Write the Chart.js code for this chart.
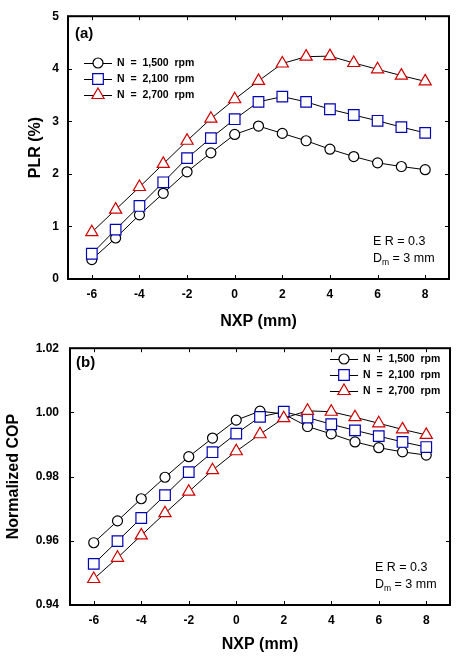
<!DOCTYPE html>
<html>
<head>
<meta charset="utf-8">
<script src="https://cdn.jsdelivr.net/npm/chart.js@4.4.1/dist/chart.umd.min.js"></script>
<style>
  html, body { margin: 0; padding: 0; background: #fff; }
  .panel { position: absolute; left: 0; width: 473px; height: 330px; }
</style>
</head>
<body>
<div class="panel" style="top:0"><canvas id="c1"></canvas></div>
<div class="panel" style="top:330px"><canvas id="c2"></canvas></div>
<script>
// ---- data ----
const nxp = [-6, -5, -4, -3, -2, -1, 0, 1, 2, 3, 4, 5, 6, 7, 8];
const seriesNames = ['N = 1,500 rpm', 'N = 2,100 rpm', 'N = 2,700 rpm'];
const plr1500 = [0.37, 0.78, 1.22, 1.63, 2.04, 2.40, 2.75, 2.91, 2.77, 2.63, 2.47, 2.33, 2.21, 2.14, 2.08];
const plr2100 = [0.48, 0.94, 1.39, 1.84, 2.30, 2.68, 3.04, 3.37, 3.47, 3.37, 3.23, 3.12, 3.01, 2.89, 2.78];
const plr2700 = [0.89, 1.32, 1.75, 2.19, 2.63, 3.05, 3.42, 3.77, 4.10, 4.23, 4.24, 4.11, 3.99, 3.87, 3.76];
const cop1500 = [0.9594, 0.9662, 0.9731, 0.9798, 0.9862, 0.9920, 0.9976, 1.0004, 0.9995, 0.9956, 0.9933, 0.9908, 0.9890, 0.9877, 0.9867];
const cop2100 = [0.9528, 0.9599, 0.9671, 0.9742, 0.9814, 0.9876, 0.9934, 0.9986, 1.0002, 0.9984, 0.9963, 0.9944, 0.9926, 0.9908, 0.9892];
const cop2700 = [0.9481, 0.9547, 0.9617, 0.9686, 0.9753, 0.9820, 0.9879, 0.9932, 0.9982, 1.0005, 1.0002, 0.9985, 0.9966, 0.9947, 0.9930];
const xTicks = [-6, -4, -2, 0, 2, 4, 6, 8];
const plrTicks = [0, 1, 2, 3, 4, 5];
const copTicks = [0.94, 0.96, 0.98, 1.00, 1.02];

// ---- styles ----
const FONT = "'Liberation Sans', Arial, sans-serif";
Chart.defaults.font.family = FONT;
Chart.defaults.color = '#000';
const styles = [
  { pointStyle: 'circle',   radius: 5,   color: '#000000', order: 3 },
  { pointStyle: 'rect',     radius: 7.5, color: '#0000b4', order: 2 },
  { pointStyle: 'triangle', radius: 7,   color: '#d00000', order: 1 }
];

function makeDatasets(arrs) {
  return arrs.map((arr, i) => ({
    label: seriesNames[i],
    data: arr.map((v, j) => ({ x: nxp[j], y: v })),
    borderColor: '#000',
    borderWidth: 1,
    pointStyle: styles[i].pointStyle,
    pointRadius: styles[i].radius,
    pointHoverRadius: styles[i].radius,
    pointBackgroundColor: '#fff',
    pointBorderColor: styles[i].color,
    pointBorderWidth: 1.2,
    order: styles[i].order,
    tension: 0,
    fill: false
  }));
}

function drawMarker(ctx, style, r, x, y, color) {
  ctx.save();
  ctx.fillStyle = '#fff';
  ctx.strokeStyle = color;
  ctx.lineWidth = 1.2;
  ctx.beginPath();
  if (style === 'circle') {
    ctx.arc(x, y, r, 0, Math.PI * 2);
  } else if (style === 'rect') {
    const s = Math.SQRT1_2 * r;
    ctx.rect(x - s, y - s, 2 * s, 2 * s);
  } else {
    let rad = 0;
    ctx.moveTo(x + Math.sin(rad) * r, y - Math.cos(rad) * r);
    rad += 2 * Math.PI / 3;
    ctx.lineTo(x + Math.sin(rad) * r, y - Math.cos(rad) * r);
    rad += 2 * Math.PI / 3;
    ctx.lineTo(x + Math.sin(rad) * r, y - Math.cos(rad) * r);
    ctx.closePath();
  }
  ctx.fill();
  ctx.stroke();
  ctx.restore();
}

function decorPlugin(cfg) {
  return {
    id: 'decor',
    afterDraw(chart) {
      const ctx = chart.ctx;
      const a = chart.chartArea;
      const xs = chart.scales.x, ys = chart.scales.y;
      ctx.save();
      // frame
      ctx.strokeStyle = '#000';
      ctx.lineWidth = 2;
      ctx.strokeRect(a.left, a.top, a.right - a.left, a.bottom - a.top);
      // inward ticks
      ctx.lineWidth = 1;
      ctx.beginPath();
      xs.ticks.forEach(t => {
        const px = Math.round(xs.getPixelForValue(t.value)) + 0.5;
        ctx.moveTo(px, a.bottom); ctx.lineTo(px, a.bottom - 4);
        ctx.moveTo(px, a.top); ctx.lineTo(px, a.top + 4);
      });
      ys.ticks.forEach(t => {
        const py = Math.round(ys.getPixelForValue(t.value)) + 0.5;
        ctx.moveTo(a.left, py); ctx.lineTo(a.left + 4, py);
        ctx.moveTo(a.right, py); ctx.lineTo(a.right - 4, py);
      });
      ctx.stroke();
      // panel label
      ctx.fillStyle = '#000';
      ctx.font = 'bold 15px ' + FONT;
      ctx.textBaseline = 'middle';
      ctx.textAlign = 'left';
      ctx.fillText(cfg.panel, cfg.panelX, cfg.panelY);
      // legend
      chart.data.datasets.forEach((ds, i) => {
        const y = cfg.legY + i * 16;
        ctx.strokeStyle = '#000';
        ctx.lineWidth = 1;
        ctx.beginPath();
        ctx.moveTo(cfg.legX, y + 0.5);
        ctx.lineTo(cfg.legX + 28, y + 0.5);
        ctx.stroke();
        drawMarker(ctx, ds.pointStyle, ds.pointRadius, cfg.legX + 14, y, ds.pointBorderColor);
        ctx.fillStyle = '#000';
        ctx.font = 'bold 10.5px ' + FONT;
        ctx.textBaseline = 'middle';
        ctx.fillText(ds.label.replace(/ /g, '  '), cfg.legX + 33, y + 0.5);
      });
      // annotation
      ctx.font = '12.5px ' + FONT;
      ctx.fillStyle = '#000';
      ctx.fillText('E R = 0.3', cfg.annX, cfg.annY);
      ctx.fillText('D', cfg.annX, cfg.annY + 17);
      const dw = ctx.measureText('D').width;
      ctx.font = '8.5px ' + FONT;
      ctx.fillText('m', cfg.annX + dw, cfg.annY + 21);
      const mw = ctx.measureText('m').width;
      ctx.font = '12.5px ' + FONT;
      ctx.fillText(' = 3 mm', cfg.annX + dw + mw, cfg.annY + 17);
      ctx.restore();
    }
  };
}

function makeChart(id, arrs, yTicks, yMin, yMax, yTitle, fmt, L, cfg) {
  return new Chart(document.getElementById(id), {
    type: 'line',
    data: { datasets: makeDatasets(arrs) },
    options: {
      responsive: true,
      maintainAspectRatio: false,
      animation: false,
      events: [],
      layout: { padding: { top: L.top, right: L.right, left: 0, bottom: 0 } },
      plugins: { legend: { display: false }, tooltip: { enabled: false } },
      scales: {
        x: {
          type: 'linear', min: -7, max: 9,
          grid: { display: false, drawTicks: false },
          border: { display: false },
          afterBuildTicks: s => { s.ticks = xTicks.map(v => ({ value: v })); },
          afterFit: s => { s.height = L.xH; },
          ticks: { font: { size: 12, weight: 'bold' }, padding: 8, maxRotation: 0, callback: v => String(v) },
          title: { display: true, text: 'NXP (mm)', font: { size: 16, weight: 'bold', lineHeight: 1 }, padding: { top: 0, bottom: L.xTitlePad } }
        },
        y: {
          type: 'linear', min: yMin, max: yMax,
          grid: { display: false, drawTicks: false },
          border: { display: false },
          afterBuildTicks: s => { s.ticks = yTicks.map(v => ({ value: v })); },
          afterFit: s => { s.width = L.yW; },
          ticks: { font: { size: 12, weight: 'bold' }, padding: L.yTickPad, callback: fmt },
          title: { display: true, text: yTitle, font: { size: 16, weight: 'bold', lineHeight: 1.2 }, padding: { top: L.yTitlePad, bottom: 0 } }
        }
      }
    },
    plugins: [decorPlugin(cfg)]
  });
}

makeChart('c1', [plr1500, plr2100, plr2700], plrTicks, 0, 5, 'PLR (%)', v => String(v),
  { top: 15, right: 24, xH: 51, yW: 68, xTitlePad: 0, yTickPad: 9, yTitlePad: 26 },
  { panel: '(a)', panelX: 75, panelY: 34, legX: 84, legY: 63, annX: 373, annY: 242 });

makeChart('c2', [cop1500, cop2100, cop2700], copTicks, 0.94, 1.02, 'Normalized COP', v => Number(v).toFixed(2),
  { top: 12, right: 23, xH: 55, yW: 70, xTitlePad: 7, yTickPad: 11, yTitlePad: 4 },
  { panel: '(b)', panelX: 76, panelY: 33, legX: 330, legY: 29, annX: 375, annY: 238 });
</script>
</body>
</html>
